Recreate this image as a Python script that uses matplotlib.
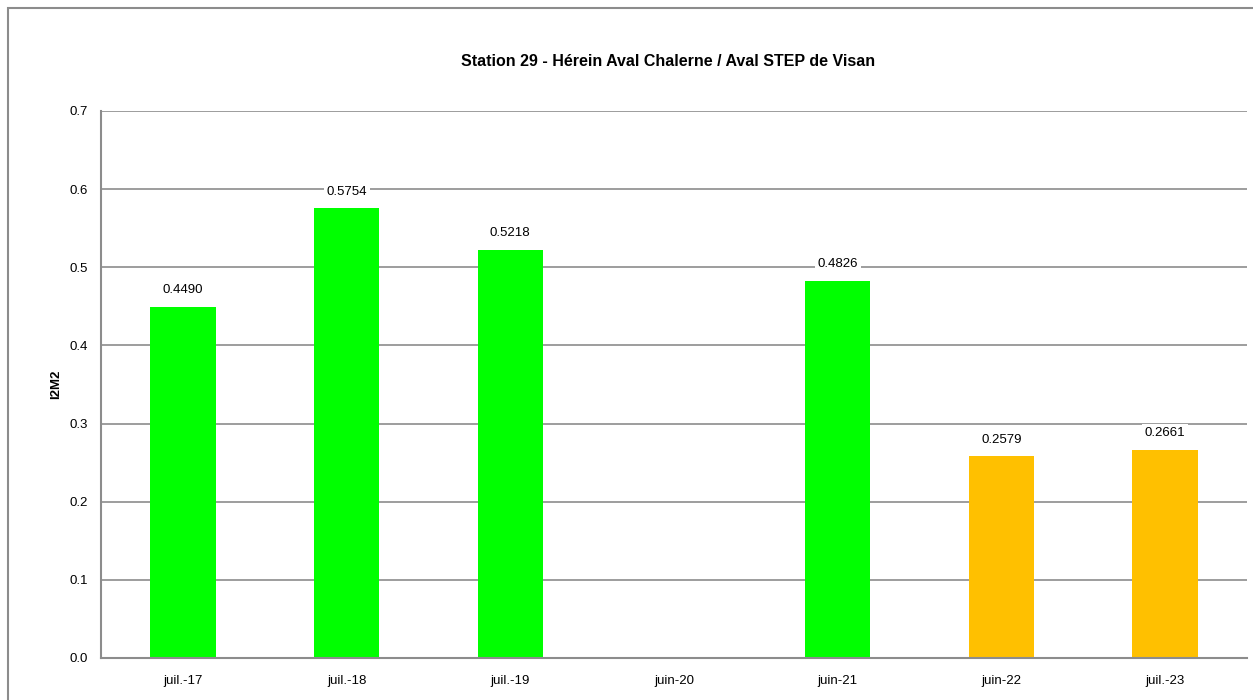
import numpy as np
import matplotlib.pyplot as plt
from matplotlib.patches import Rectangle

# données I2M2 station 29
campagnes = ["juil.-17", "juil.-18", "juil.-19", "juin-20", "juin-21", "juin-22", "juil.-23"]
i2m2 = [0.4490, 0.5754, 0.5218, np.nan, 0.4826, 0.2579, 0.2661]
couleurs = ["#00FF00", "#00FF00", "#00FF00", "#00FF00", "#00FF00", "#FFC000", "#FFC000"]

plt.rcParams["font.family"] = ["Liberation Sans", "DejaVu Sans"]

fig = plt.figure(figsize=(12.53, 7.0), dpi=100)
ax = fig.add_axes([101 / 1253, 1 - 658 / 700, (1247 - 101) / 1253, (658 - 111) / 700])

# cadre extérieur
fig.patches.append(Rectangle((8 / 1253, -0.1), 1.1, 1 - 8 / 700 + 0.1,
                             transform=fig.transFigure, fill=False,
                             edgecolor="#8c8c8c", linewidth=1.5))

x = np.arange(len(campagnes))
ax.bar(x, i2m2, width=0.4, color=couleurs, zorder=2)

for xi, v in zip(x, i2m2):
    if np.isnan(v):
        continue
    ax.text(xi, v + 0.0215, f"{v:.4f}", ha="center", va="center", fontsize=9.5,
            bbox=dict(facecolor="white", edgecolor="none", pad=2), zorder=3)

ax.set_xlim(-0.5, len(campagnes) - 0.5)
ax.set_ylim(0, 0.7)
ax.set_yticks(np.arange(0, 0.71, 0.1))
ax.set_yticklabels(["0.0", "0.1", "0.2", "0.3", "0.4", "0.5", "0.6", "0.7"])
ax.set_xticks(x)
ax.set_xticklabels(campagnes)
ax.tick_params(length=0, labelsize=9.5, labelcolor="black")
ax.tick_params(axis="x", pad=12)
ax.tick_params(axis="y", pad=9.5)

ax.grid(axis="y", color="#8c8c8c", linewidth=1.2, zorder=1)
ax.set_axisbelow(True)
for s in ["top", "right"]:
    ax.spines[s].set_visible(False)
for s in ["left", "bottom"]:
    ax.spines[s].set_color("#8c8c8c")
    ax.spines[s].set_linewidth(1.5)

ax.set_ylabel("I2M2", fontsize=9.5, fontweight="bold", labelpad=5)
fig.text(668 / 1253, 1 - 61 / 700, "Station 29 - Hérein Aval Chalerne / Aval STEP de Visan",
         ha="center", va="center", fontsize=11.5, fontweight="bold")

fig.savefig("out.png", dpi=100)
